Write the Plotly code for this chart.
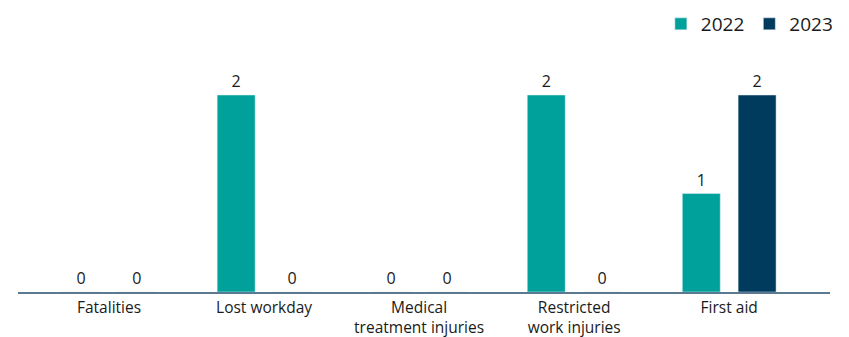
import plotly.graph_objects as go

categories = ["Fatalities", "Lost workday", "Medical<br>treatment injuries",
              "Restricted<br>work injuries", "First aid"]
values_2022 = [0, 2, 0, 2, 1]
values_2023 = [0, 0, 0, 0, 2]

teal = "#00A19A"
navy = "#003A5D"
font_family = "'Open Sans', sans-serif"
text_color = "#1a1a1a"

fig = go.Figure()
fig.add_trace(go.Bar(
    name="2022", x=categories, y=values_2022, marker_color=teal,
    text=values_2022, textposition="outside", cliponaxis=False,
    textfont=dict(size=16, color=text_color, family=font_family),
))
fig.add_trace(go.Bar(
    name="2023", x=categories, y=values_2023, marker_color=navy,
    text=values_2023, textposition="outside", cliponaxis=False,
    textfont=dict(size=16, color=text_color, family=font_family),
))

fig.update_layout(
    width=849, height=337,
    margin=dict(l=18, r=0, t=5, b=45),
    barmode="group", bargap=0.28, bargroupgap=0.32,
    plot_bgcolor="white", paper_bgcolor="white",
    font=dict(family=font_family, size=15, color=text_color),
    legend=dict(orientation="h", x=0.9866, xanchor="right", y=1.0, yanchor="top",
                font=dict(size=19), itemwidth=30, traceorder="normal"),
    xaxis=dict(
        domain=[0, 0.9771],
        range=[-0.587, 4.65], showline=True, linecolor="#5B7A91", linewidth=2,
        ticks="", tickfont=dict(size=15.5), automargin=False,
    ),
    yaxis=dict(range=[0, 2.914], visible=False),
)

fig.write_html("out.html")
